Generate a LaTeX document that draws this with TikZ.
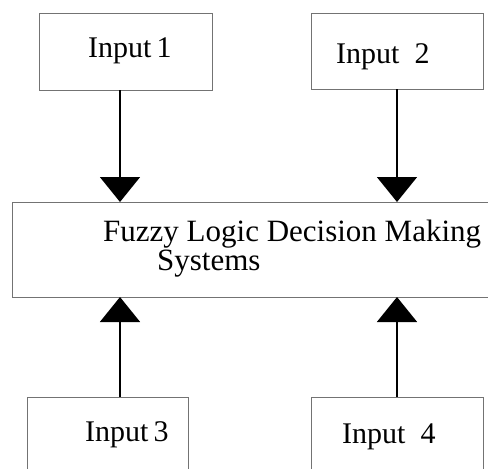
\documentclass[tikz,border=0pt]{standalone}
\usepackage{fontspec}
\setmainfont{Liberation Serif}
\usetikzlibrary{arrows.meta}
\begin{document}
\begin{tikzpicture}[x=1pt,y=-1pt,
    box/.style={draw=black!55,line width=0.8pt,inner sep=0pt,outer sep=0pt},
    txt/.style={anchor=base west,inner sep=0pt,font=\fontsize{30}{27}\selectfont},
    flow/.style={line width=1.6pt,-{Triangle[width=40pt,length=25pt]}}]
    \useasboundingbox (0,0) rectangle (488,469);
    \clip (0,0) rectangle (488,469);
    \node[box,minimum width=173pt,minimum height=77pt] (in1) at (125.5,51.5) {};
    \node[box,minimum width=172pt,minimum height=76pt] (in2) at (397,51) {};
    \node[box,minimum width=488pt,minimum height=95pt] (fls) at (256,249.5) {};
    \node[box,minimum width=161pt,minimum height=93pt] (in3) at (107.5,443.5) {};
    \node[box,minimum width=172pt,minimum height=93pt] (in4) at (397,443.5) {};
    \node[txt] (t1) at (88,57) {Input\,1};
    \node[txt] (t2) at (336,63) {Input\ \ 2};
    \node[txt] (t3) at (85,441) {Input\,3};
    \node[txt] (t4) at (342,443) {Input\ \ 4};
    \node[txt,font=\fontsize{31}{27}\selectfont,align=left] (tf) at (103,270)
        {Fuzzy Logic Decision Making\\\hspace{54pt}Systems};
    \draw[flow] (in1.south -| 120,0) -- (fls.north -| 120,0);
    \draw[flow] (in2.south -| 397,0) -- (fls.north -| 397,0);
    \draw[flow] (in3.north -| 120,0) -- (fls.south -| 120,0);
    \draw[flow] (in4.north -| 397,0) -- (fls.south -| 397,0);
\end{tikzpicture}
\end{document}
